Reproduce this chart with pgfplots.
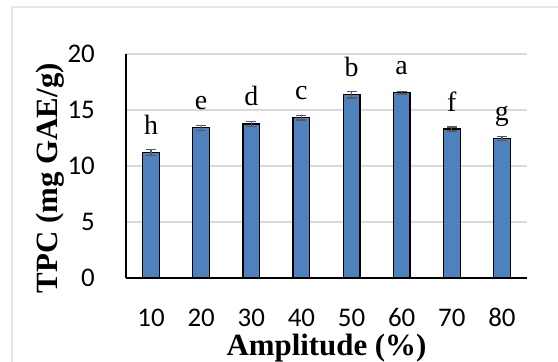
\documentclass[border=0pt]{standalone}
\usepackage{pgfplots}
\pgfplotsset{compat=1.18}
\usepackage{pgfplotstable}
\usepackage{fontspec}
\setmainfont{Liberation Serif}
\newfontfamily\tickfont{Carlito}

\definecolor{barblue}{HTML}{4F81BD}
\definecolor{gridgray}{HTML}{D9D9D9}
\definecolor{errgray}{HTML}{595959}
\definecolor{framegray}{HTML}{E6E6E6}

% Total phenolic content by ultrasound amplitude, with group letters
\pgfplotstableread{
idx amp tpc err grp
0 10 11.20 0.25 h
1 20 13.42 0.22 e
2 30 13.75 0.22 d
3 40 14.30 0.20 c
4 50 16.35 0.28 b
5 60 16.55 0.12 a
6 70 13.30 0.18 f
7 80 12.45 0.18 g
}\tpcdata

\begin{document}
\begin{tikzpicture}
\path[use as bounding box, clip] (0bp,0bp) rectangle (558bp,362bp);
\draw[framegray, line width=1.2bp] (12bp,-10bp) -- (12bp,355bp) -- (570bp,355bp);
\begin{axis}[
  at={(126bp,84bp)}, anchor=south west,
  scale only axis, width=401bp, height=224bp,
  xmin=-0.5, xmax=7.5, ymin=0, ymax=20,
  xtick={0,...,7}, xticklabels={10,20,30,40,50,60,70,80},
  ytick={0,5,10,15,20},
  /pgf/number format/assume math mode=true,
  axis x line=bottom, axis y line=left,
  x axis line style={-, black, line width=1.6bp},
  y axis line style={-, black, line width=1.1bp},
  major tick length=0pt,
  ymajorgrids, major grid style={gridgray, line width=1.3bp},
  tick label style={font=\tickfont\fontsize{27}{30}\selectfont, inner sep=0pt},
  x tick label style={anchor=base, yshift=-48bp},
  y tick label style={anchor=east, xshift=-31bp},
  xlabel={\bfseries Amplitude (\%)},
  ylabel={\bfseries TPC (mg GAE/g)},
  every axis x label/.style={at={(axis description cs:0.5,-0.345)}, anchor=base,
    font=\fontsize{31}{36}\selectfont, inner sep=0pt},
  every axis y label/.style={at={(axis description cs:-0.170,0.446)}, anchor=base,
    rotate=90, font=\fontsize{31}{36}\selectfont, inner sep=0pt},
  ybar, bar width=16.7bp,
  point meta=explicit symbolic,
  nodes near coords={\pgfplotspointmeta},
  every node near coord/.append style={anchor=base, yshift=18bp, inner sep=0pt,
    font=\fontsize{28}{30}\selectfont, black},
  clip=false,
]
\addplot[fill=barblue, draw=black, line width=1.2bp,
  error bars/.cd, y dir=both, y explicit,
  error bar style={errgray, line width=1.3bp},
  error mark options={rotate=90, errgray, mark size=5bp, line width=1.3bp}]
  table[x=idx, y=tpc, y error=err, meta=grp] {\tpcdata};
\end{axis}
\end{tikzpicture}
\end{document}
